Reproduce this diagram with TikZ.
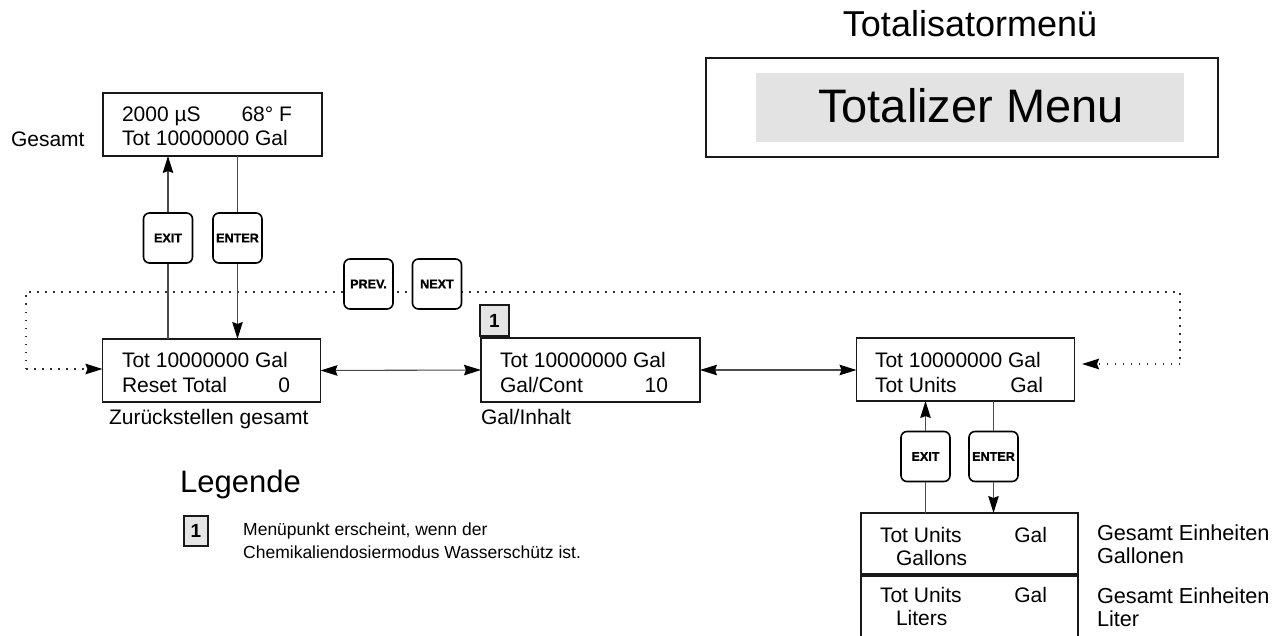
\documentclass[tikz,border=0pt]{standalone}
\usepackage{fontspec}
\setmainfont{Liberation Sans}
\newfontfamily\keyfont[FakeBold=1.2]{Liberation Sans Bold}
\usetikzlibrary{arrows.meta}
\newcommand{\fsz}[1]{\fontsize{#1}{#1}\selectfont}
\newcommand{\scrline}[3]{\makebox[#1][l]{#2\hfill #3}}
\begin{document}
\begin{tikzpicture}[x=1pt,y=-1pt,
  screen/.style={draw=black!90, line width=1.7pt, inner sep=0pt, outer sep=0pt, fill=white},
  stext/.style={inner sep=0pt, outer sep=0pt, anchor=base west, font=\fsz{21}},
  lbl/.style={inner sep=0pt, outer sep=0pt, anchor=base west, font=\fsz{21}},
  key/.style={draw=black, line width=1.6pt, rounded corners=6pt, fill=white, minimum width=49pt, minimum height=50pt, inner sep=0pt, font=\keyfont\fsz{12.6}},
  tip/.style={-{Stealth[length=17pt,width=10.5pt,inset=2pt,color=black]}},
  dtip/.style={{Stealth[length=17pt,width=10.5pt,inset=2pt,color=black]}-{Stealth[length=17pt,width=10.5pt,inset=2pt,color=black]}},
  conn/.style={line width=1.1pt, draw=black!70},
  dots/.style={line width=1.5pt, draw=black!80, dash pattern=on 1.5pt off 6.5pt},
  numbox/.style={draw=black!90, line width=1.3pt, fill=black!10, inner sep=0pt, font=\bfseries\fsz{19}}
]
\clip (0,0) rectangle (1274,636);
\fill[white] (0,0) rectangle (1274,636);

% title
\node[inner sep=0pt, anchor=base, font=\fsz{36}] (title) at (970,37) {Totalisatormenü};
\node[draw=black!90, line width=1.7pt, minimum width=512pt, minimum height=99pt, inner sep=0pt] (tmbox) at (962,107.5) {};
\node[fill=black!11, minimum width=428pt, minimum height=69pt, inner sep=0pt] (tmgray) at (970,107.5) {};
\node[inner sep=0pt, anchor=base, font=\fsz{47}] (tmtext) at (971,123) {Totalizer Menu};

% top screen
\node[screen, minimum width=219pt, minimum height=63pt] (b0) at (212.5,124.5) {};
\node[stext] (b0a) at (122,122) {\scrline{170pt}{2000 µS}{68° F}};
\node[stext] (b0b) at (122,146) {Tot 10000000 Gal};
\node[lbl] (gesamt) at (11,147) {Gesamt};

% main row screens
\node[screen, minimum width=218pt, minimum height=63pt] (b1) at (211.5,370.5) {};
\node[stext] (b1a) at (122,367) {Tot 10000000 Gal};
\node[stext] (b1b) at (122,392) {\scrline{168pt}{Reset Total}{0}};
\node[lbl] (b1l) at (109,424) {Zurückstellen gesamt};

\node[screen, minimum width=219pt, minimum height=64pt] (b2) at (590.5,370) {};
\node[stext] (b2a) at (500,367) {Tot 10000000 Gal};
\node[stext] (b2b) at (500,392) {\scrline{168pt}{Gal/Cont}{10}};
\node[lbl] (b2l) at (481,424) {Gal/Inhalt};
\node[numbox, minimum width=29pt, minimum height=31pt] (n1) at (494.5,320.5) {1};

\node[screen, minimum width=218pt, minimum height=63pt] (b3) at (965.5,369.5) {};
\node[stext] (b3a) at (875,367) {Tot 10000000 Gal};
\node[stext] (b3b) at (875,392) {\scrline{168pt}{Tot Units}{Gal}};

% sub screens
\node[screen, minimum width=217pt, minimum height=61pt] (s1) at (969.5,543.5) {};
\node[stext] (s1a) at (880,542) {\scrline{167pt}{Tot Units}{Gal}};
\node[stext] (s1b) at (896,565) {Gallons};
\node[screen, minimum width=217pt, minimum height=74pt] (s2) at (969.5,613) {};
\node[stext] (s2a) at (880,602) {\scrline{167pt}{Tot Units}{Gal}};
\node[stext] (s2b) at (896,625) {Liters};
\node[lbl, font=\fsz{21.7}] (g1) at (1097,540) {Gesamt Einheiten};
\node[lbl, font=\fsz{21.7}] (g2) at (1097,563) {Gallonen};
\node[lbl, font=\fsz{21.7}] (g3) at (1097,603) {Gesamt Einheiten};
\node[lbl, font=\fsz{21.7}] (g4) at (1097,626) {Liter};

% dotted loop
\coordinate (dR) at (1180,364);
\coordinate (dRt) at (1180,292);
\coordinate (dLt) at (26,292);
\coordinate (dL) at (26,369);
\coordinate (dRe) at (1082,364);
\draw[dots, tip] (dL) -- (dL -| b1.west);
\draw[dots] (dL) -- (dLt) -- (dRt) -- (dR);
\draw[dots, tip] (dR) -- (dRe);

% keys
\node[key] (exitL) at (168,238) {EXIT};
\node[key] (enterL) at (237.5,238) {ENTER};
\node[key] (prev) at (368.5,284) {PREV.};
\node[key] (next) at (437,284) {NEXT};
\node[key] (exitR) at (925.5,456.5) {EXIT};
\node[key] (enterR) at (993.5,456.5) {ENTER};

% connectors left
\draw[conn] (exitL.south |- b1.north) -- (exitL.south);
\draw[conn, tip] (exitL.north) -- (exitL.north |- b0.south);
\draw[conn] (enterL.north |- b0.south) -- (enterL.north);
\draw[conn, tip] (enterL.south) -- (enterL.south |- b1.north);

% horizontal double arrows
\draw[conn, dtip] (b1.east) -- (b2.west);
\draw[conn, dtip] (b2.east) -- (b3.west |- b2.east);

% connectors right
\draw[conn] (exitR.south |- s1.north) -- (exitR.south);
\draw[conn, tip] (exitR.north) -- (exitR.north |- b3.south);
\draw[conn] (enterR.north |- b3.south) -- (enterR.north);
\draw[conn, tip] (enterR.south) -- (enterR.south |- s1.north);

% legend
\node[inner sep=0pt, anchor=base west, font=\fsz{31}] (leg) at (180,492) {Legende};
\node[numbox, minimum width=24pt, minimum height=30pt] (n2) at (196,531) {1};
\node[inner sep=0pt, anchor=base west, font=\fsz{17.5}] (legt1) at (243,535) {Menüpunkt erscheint, wenn der};
\node[inner sep=0pt, anchor=base west, font=\fsz{17.5}] (legt2) at (243,558) {Chemikaliendosiermodus Wasserschütz ist.};
\end{tikzpicture}
\end{document}
